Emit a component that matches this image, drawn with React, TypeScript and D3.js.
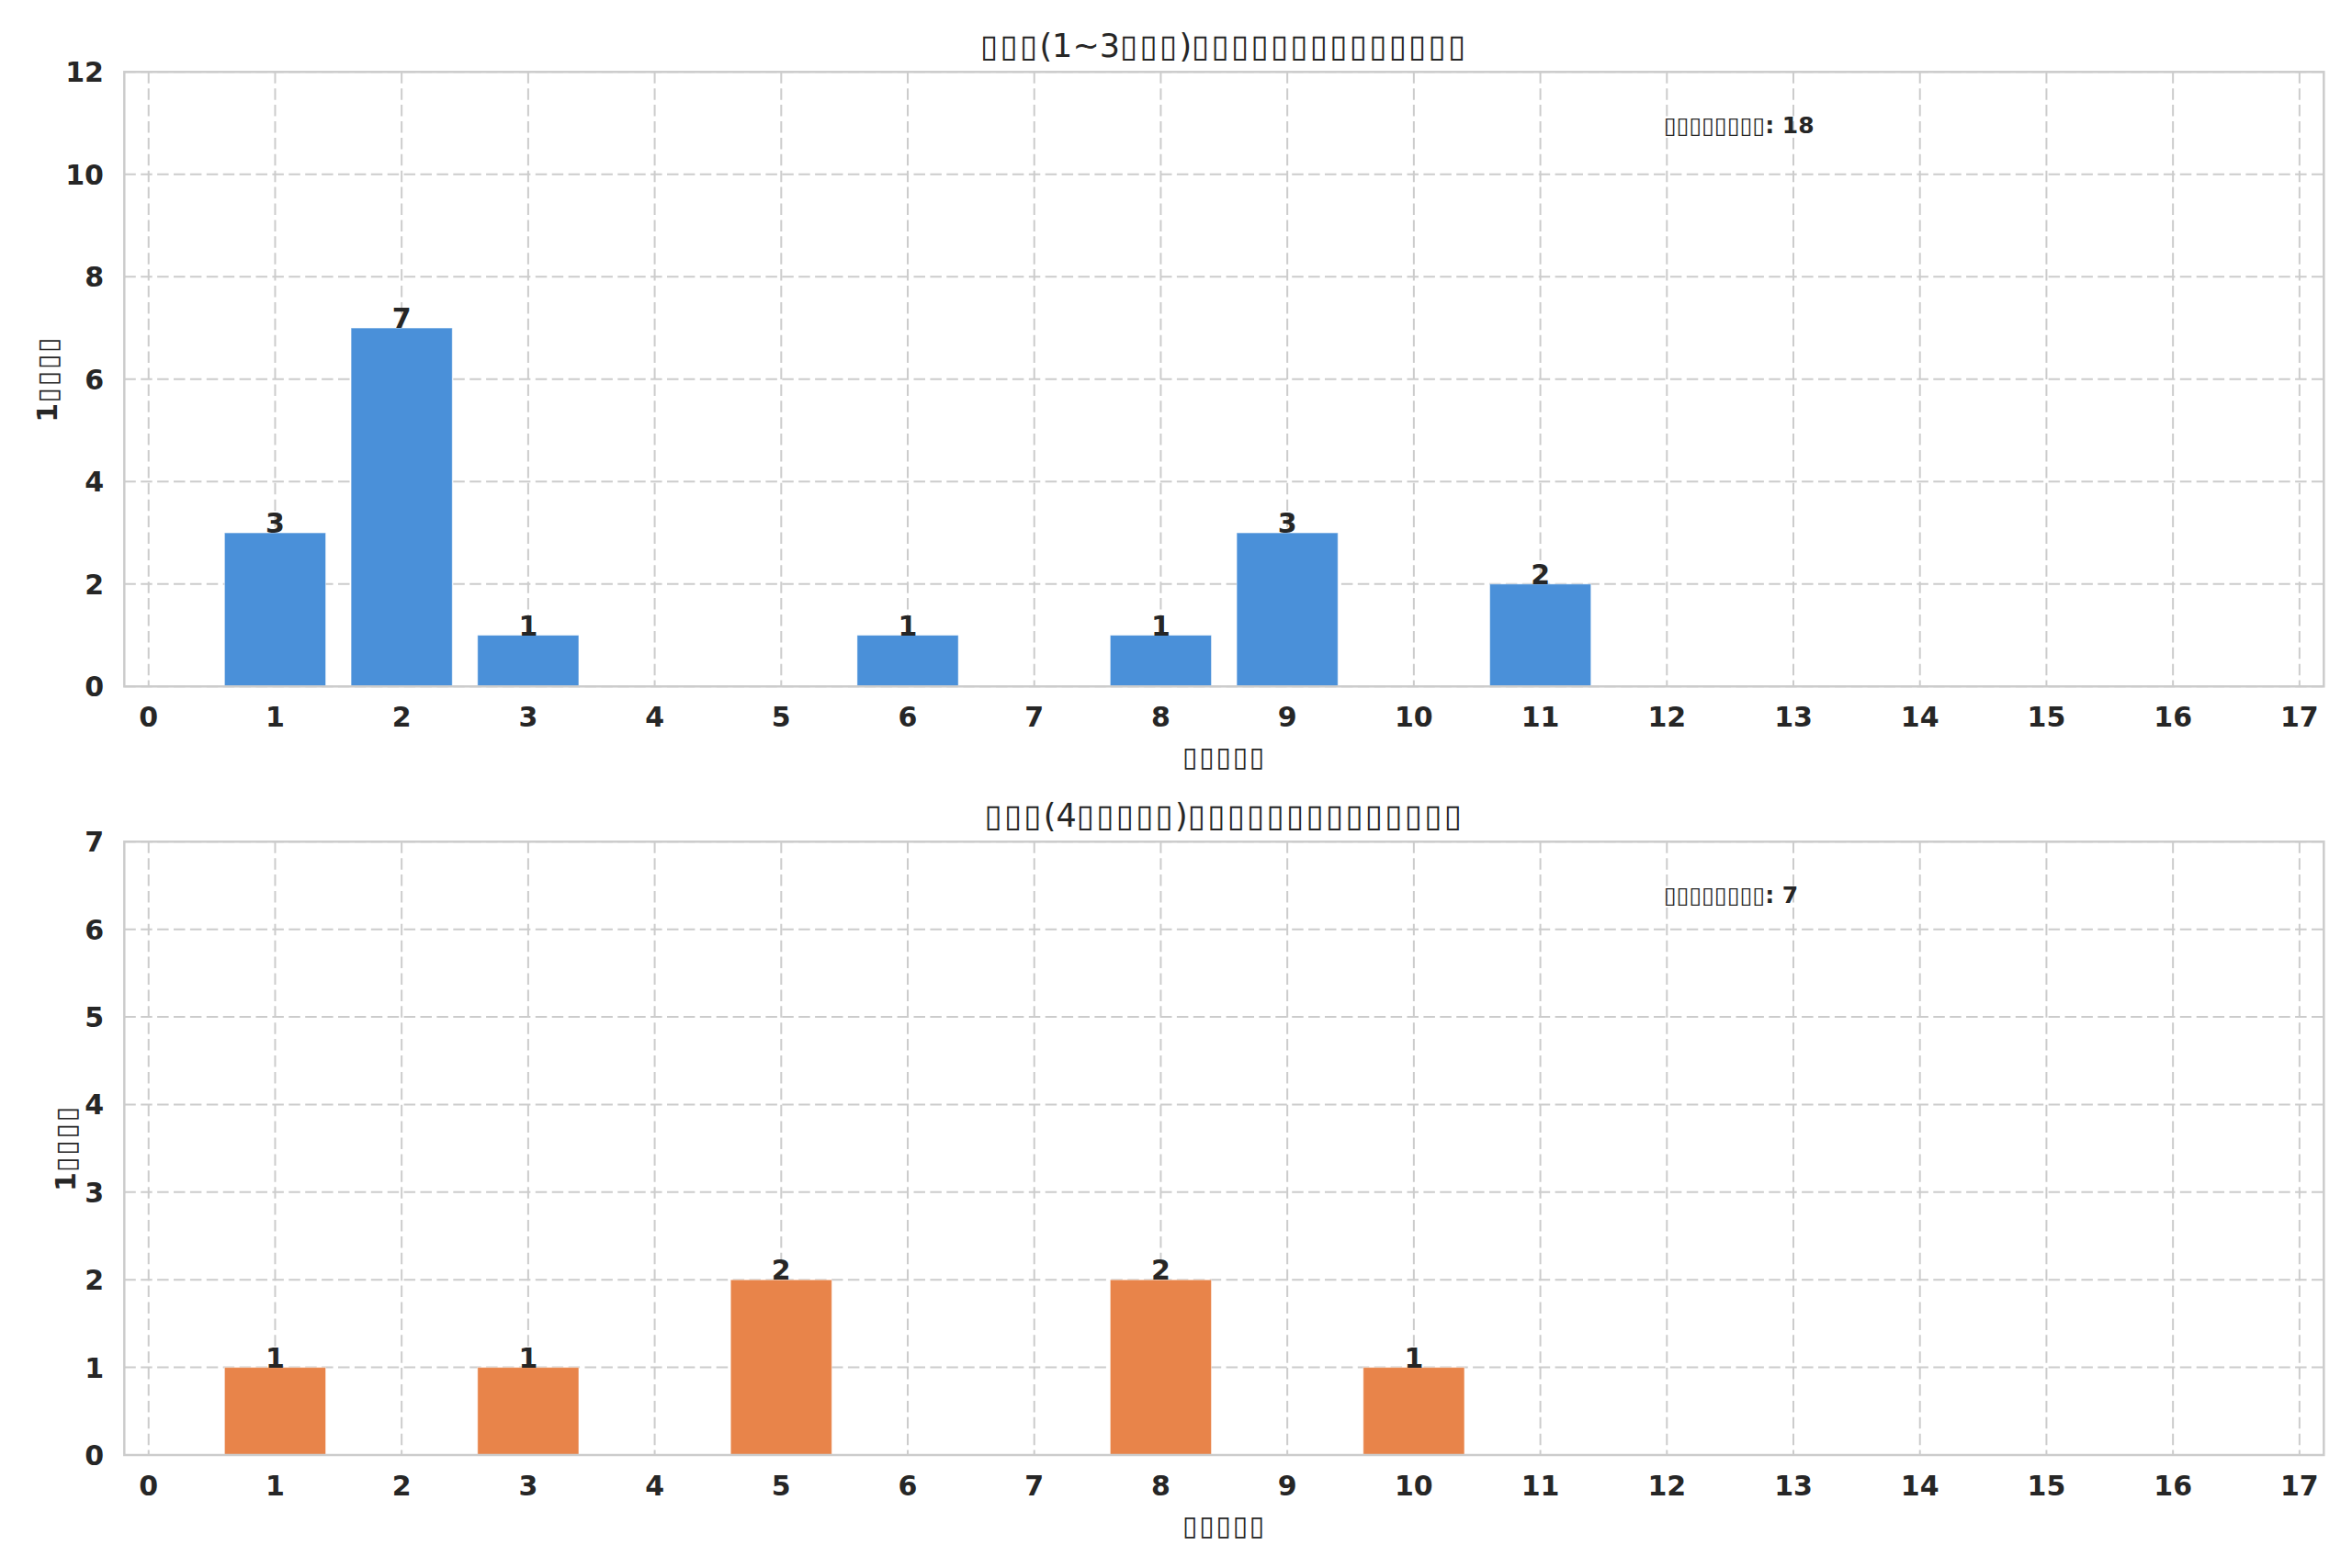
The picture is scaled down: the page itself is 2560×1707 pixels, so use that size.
import * as d3 from 'd3'

// tick positions shared by both panels
const xTicks = d3.range(0, 18)

// panel 1: 1~3 group
const group1X = [1, 2, 3, 6, 8, 9, 11]
const group1Y = [3, 7, 1, 1, 1, 3, 2]
const group1YTicks = [0, 2, 4, 6, 8, 10, 12]

// panel 2: 4+ group
const group2X = [1, 3, 5, 8, 10]
const group2Y = [1, 1, 2, 2, 1]
const group2YTicks = [0, 1, 2, 3, 4, 5, 6, 7]

// labels (the source rendered these glyphs as empty boxes)
const titles = [
  '▯▯▯(1~3▯▯▯)▯▯▯▯▯▯▯▯▯▯▯▯▯▯',
  '▯▯▯(4▯▯▯▯▯)▯▯▯▯▯▯▯▯▯▯▯▯▯▯',
]
const xLabel = '▯▯▯▯▯'
const yLabel = '1▯▯▯▯'
const totalLabel = '▯▯▯▯▯▯▯▯'

const W = 2560
const H = 1707
const left = 135.3
const right = 2529.3
const FONT = '"DejaVu Sans", sans-serif'
const TEXT = '#262626'
const GRID = '#cccccc'

// splits off the box runs so they keep a regular weight inside bold labels
const Rich = ({ text, spacing = 0 }: { text: string, spacing?: number }) => (
  <>
    {text.split(/(▯+)/).filter(s => s.length).map((s, i) =>
      s[0] === '▯'
        ? <tspan key={i} fontWeight="normal" letterSpacing={spacing}>{s}</tspan>
        : <tspan key={i}>{s}</tspan>
    )}
  </>
)

interface PanelProps {
  top: number
  bottom: number
  xs: number[]
  ys: number[]
  yTicks: number[]
  yMax: number
  color: string
  title: string
  labelX: number
}

const Panel = ({ top, bottom, xs, ys, yTicks, yMax, color, title, labelX }: PanelProps) => {
  const x = d3.scaleLinear().domain([-0.192, 17.192]).range([left, right])
  const y = d3.scaleLinear().domain([0, yMax]).range([bottom, top])
  const h = bottom - top
  const bw = x(0.8) - x(0)
  const total = d3.sum(ys)

  return (
    <g>
      {/* grid */}
      {xTicks.map(t => (
        <line key={'gx' + t} x1={x(t)} x2={x(t)} y1={top} y2={bottom}
          stroke={GRID} strokeWidth={2} strokeDasharray="12.5 5.4" />
      ))}
      {yTicks.map(t => (
        <line key={'gy' + t} x1={left} x2={right} y1={y(t)} y2={y(t)}
          stroke={GRID} strokeWidth={2} strokeDasharray="12.5 5.4" />
      ))}

      {/* bars */}
      {xs.map((v, i) => (
        <rect key={'b' + v} x={x(v) - bw / 2} y={y(ys[i])} width={bw} height={y(0) - y(ys[i])}
          fill={color} stroke="#ffffff" strokeOpacity={0.5} strokeWidth={1} />
      ))}

      {/* spines */}
      <rect x={left} y={top} width={right - left} height={h}
        fill="none" stroke={GRID} strokeWidth={2.5} />

      {/* bar values */}
      {xs.map((v, i) => (
        <text key={'v' + v} x={x(v)} y={y(ys[i])} textAnchor="middle"
          fontSize={30} fontWeight="bold" fill={TEXT}>{ys[i]}</text>
      ))}

      {/* tick labels */}
      {xTicks.map(t => (
        <text key={'tx' + t} x={x(t)} y={bottom + 43.5} textAnchor="middle"
          fontSize={30} fontWeight="bold" fill={TEXT}>{t}</text>
      ))}
      {yTicks.map(t => (
        <text key={'ty' + t} x={113} y={y(t) + 11} textAnchor="end"
          fontSize={30} fontWeight="bold" fill={TEXT}>{t}</text>
      ))}

      {/* axis labels */}
      <text x={(left + right) / 2} y={bottom + 87} textAnchor="middle"
        fontSize={30} fontWeight="bold" fill={TEXT}><Rich text={xLabel} spacing={1.7} /></text>
      <text transform={`translate(${labelX},${(top + bottom) / 2}) rotate(-90)`} textAnchor="middle"
        fontSize={30} fontWeight="bold" fill={TEXT}><Rich text={yLabel} spacing={1.7} /></text>

      {/* title */}
      <text x={(left + right) / 2} y={top - 16.5} textAnchor="middle"
        fontSize={35} fill={TEXT}><Rich text={title} spacing={2.2} /></text>

      {/* total annotation */}
      <text x={left + 0.7 * (right - left)} y={top + 0.1 * h}
        fontSize={25} fontWeight="bold" fill={TEXT}><Rich text={`${totalLabel}: ${total}`} /></text>
    </g>
  )
}

export default function App() {
  return (
    <svg width={W} height={H} viewBox={`0 0 ${W} ${H}`} fontFamily={FONT}
      style={{ position: 'absolute', left: 0, top: 0, background: '#ffffff' }}>
      <rect width={W} height={H} fill="#ffffff" />
      <Panel top={78.3} bottom={747.3} xs={group1X} ys={group1Y} yTicks={group1YTicks}
        yMax={12} color="#4a90d9" title={titles[0]} labelX={62} />
      <Panel top={916.3} bottom={1584} xs={group2X} ys={group2Y} yTicks={group2YTicks}
        yMax={7} color="#e8844a" title={titles[1]} labelX={82} />
    </svg>
  )
}
